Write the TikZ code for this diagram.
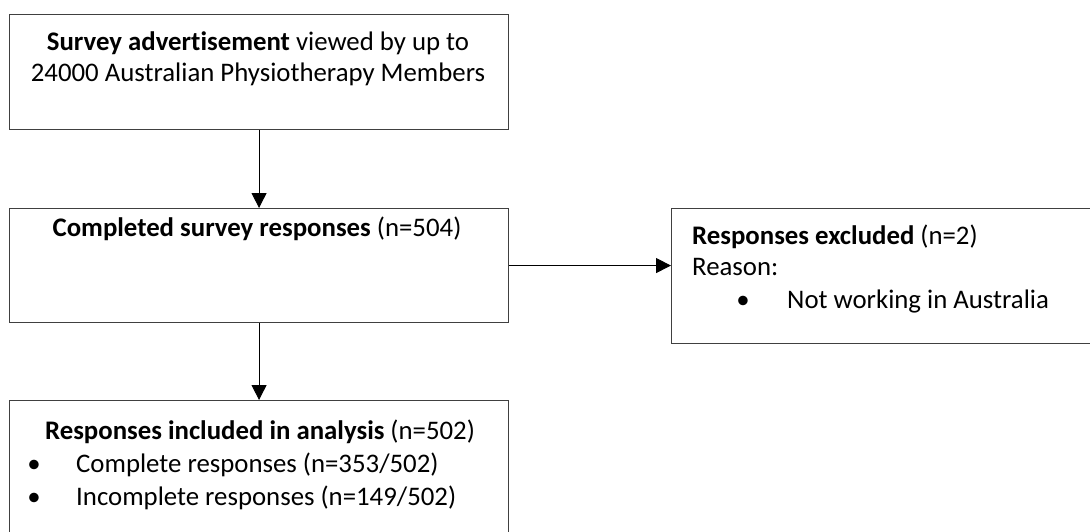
\documentclass[tikz,border=0pt]{standalone}
\usepackage{fontspec}
\setmainfont{Carlito}[Ligatures=NoCommon]
\usetikzlibrary{arrows.meta}

\begin{document}
\begin{tikzpicture}[x=1pt,y=-1pt,
  box/.style={draw=black!75, line width=1.1pt, minimum width=499pt, anchor=north west, inner sep=0pt},
  txt/.style={font=\fontsize{26.8}{32}\selectfont, inner sep=0pt, anchor=base},
  txtl/.style={txt, anchor=base west},
  arr/.style={-{Triangle[length=15pt,width=15pt]}, line width=0.9pt}]
\useasboundingbox (0,0) rectangle (1090,531);
% boxes
\node[box, minimum height=115pt] (advert) at (9,14) {};
\node[box, minimum height=114pt] (completed) at (9,208) {};
\node[box, minimum height=160pt] (included) at (9,400) {};
\node[box, minimum width=440pt, minimum height=135pt] (excluded) at (671,208) {};
% texts
\node[txt] (advert1) at (258,50) {\textbf{Survey advertisement} viewed by up to};
\node[txt] (advert2) at (258,81) {24000 Australian Physiotherapy Members};
\node[txt] (completed1) at (257,236) {\textbf{Completed survey responses} (n=504)};
\node[txtl] (excluded1) at (692,244) {\textbf{Responses excluded} (n=2)};
\node[txtl] (excluded2) at (692,275) {Reason:};
\node[txt] (excludeddot) at (743,308) {\textbullet};
\node[txtl] (excluded3) at (787,308) {Not working in Australia};
\node[txt] (included1) at (260,439) {\textbf{Responses included in analysis} (n=502)};
\node[txt] (includeddot1) at (34,472) {\textbullet};
\node[txtl] (included2) at (76,472) {Complete responses (n=353/502)};
\node[txt] (includeddot2) at (34,505) {\textbullet};
\node[txtl] (included3) at (76,505) {Incomplete responses (n=149/502)};
% arrows
\draw[arr] (advert.south) -- (completed.north);
\draw[arr] (completed.south) -- (included.north);
\draw[arr] (completed.east) -- (completed.east -| excluded.west);
\end{tikzpicture}
\end{document}
